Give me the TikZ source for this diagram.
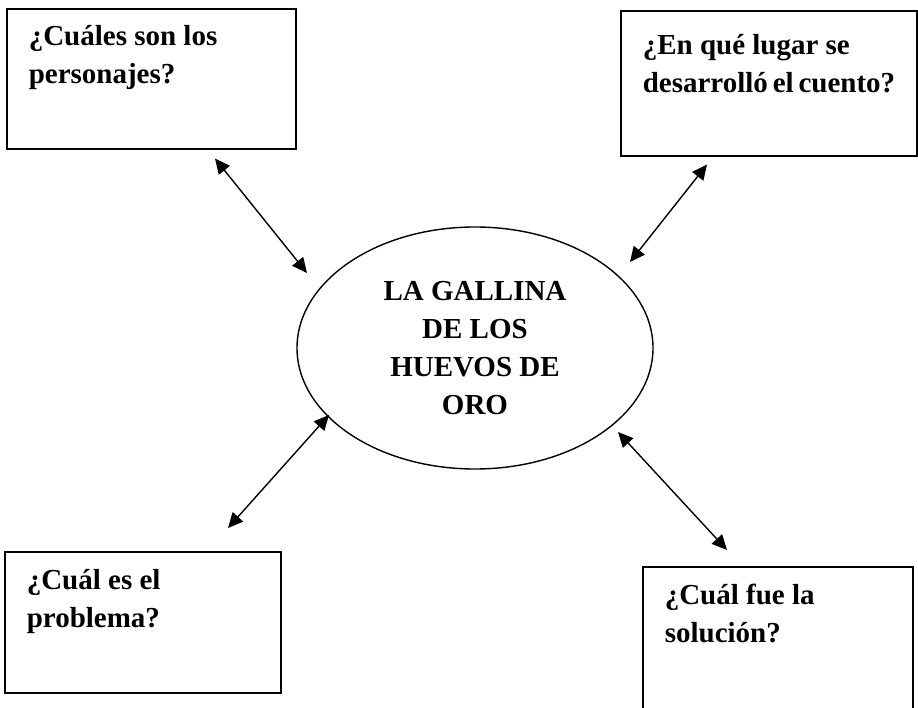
\documentclass[tikz,border=0pt]{standalone}
\usepackage{fontspec}
\setmainfont{Liberation Serif}
\usetikzlibrary{shapes.geometric,arrows.meta}

\begin{document}
\begin{tikzpicture}[x=1pt, y=-1pt, >={Triangle[length=15pt,width=14pt]}, anchor=north west]

    \tikzset{%
    question/.style={
        rectangle,
        draw,
        line width=1.6pt,
        inner xsep=22pt,
        inner ysep=0pt,
        align=flush left,
        font=\fontsize{29}{38}\selectfont\bfseries
        },
    title/.style={
        ellipse,
        draw,
        line width=1.4pt,
        inner sep=0pt,
        minimum width=356pt,
        minimum height=242pt,
        align=center,
        font=\fontsize{29}{38}\selectfont\bfseries
        },
    link/.style={<->, line width=1.4pt},
    }

    \useasboundingbox (0,0) rectangle (918,708);

    % Central ellipse with the title of the story
    \node [title, anchor=center] (tema) at (475,348) {LA GALLINA\\DE LOS\\HUEVOS DE\\ORO};

    % Question boxes
    \node [question, text width=245pt, text height=37pt, text depth=103pt] (personajes) at (6,8) {¿Cuáles son los\\personajes?};
    \node [question, text width=252pt, text height=44pt, text depth=101pt] (lugar) at (620,10) {¿En qué lugar se\\desarrolló~el~cuento?};
    \node [question, text width=232pt, text height=38pt, text depth=103pt] (problema) at (4,551) {¿Cuál es el\\problema?};
    \node [question, text width=226pt, text height=38pt, text depth=112pt] (solucion) at (642,566) {¿Cuál fue la\\solución?};

    % Arrows between boxes and ellipse
    \draw [link] ([shift={(209,9)}]personajes.south west) -- ([shift={(-168,-75)}]tema.center);
    \draw [link] ([shift={(87,8)}]lugar.south west) -- ([shift={(155,-86)}]tema.center);
    \draw [link] ([shift={(224,-23)}]problema.north west) -- ([shift={(-146,67)}]tema.center);
    \draw [link] ([shift={(85,-16)}]solucion.north west) -- ([shift={(143,84)}]tema.center);

\end{tikzpicture}
\end{document}
